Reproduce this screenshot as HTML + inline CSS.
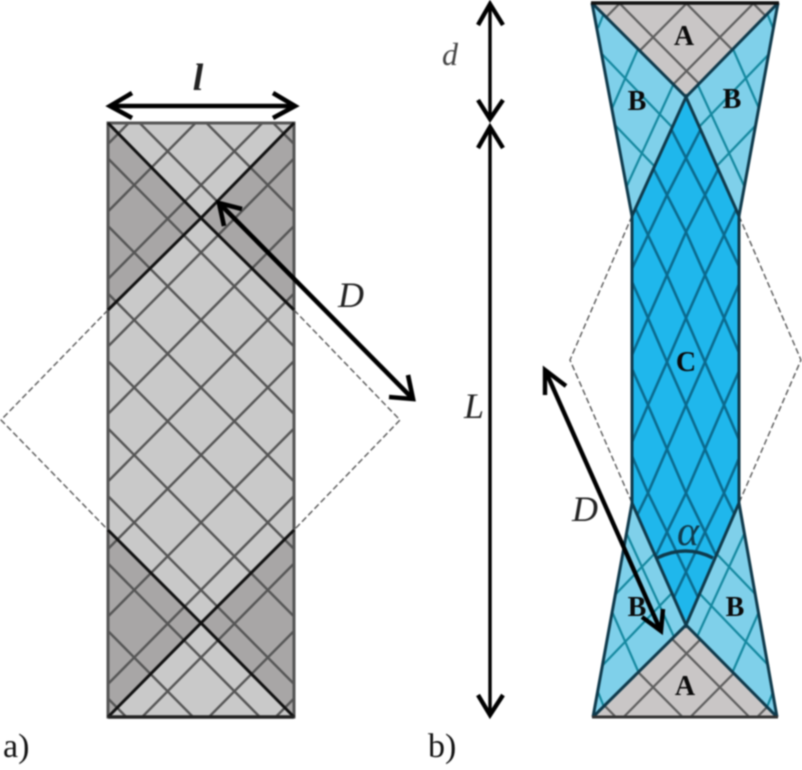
<!DOCTYPE html>
<html><head><meta charset="utf-8"><style>
html,body{margin:0;padding:0;background:#fff;width:802px;height:770px;overflow:hidden}
svg{display:block;filter:blur(.7px);overflow:hidden}
text{font-family:"Liberation Serif",serif}
</style></head><body>
<svg width="802" height="770" viewBox="0 0 802 770" xmlns="http://www.w3.org/2000/svg">
<defs>
<g id="half" fill="none">
<line x1="152" y1="0" x2="294" y2="144"/><line x1="108" y1="23.5" x2="294" y2="211.5"/>
<line x1="108" y1="91" x2="294" y2="279"/><line x1="108" y1="158.5" x2="294" y2="346.5"/>
<line x1="108" y1="226" x2="294" y2="414"/><line x1="108" y1="293.5" x2="294" y2="481.5"/>
<line x1="108" y1="361" x2="294" y2="549"/><line x1="108" y1="428.5" x2="294" y2="616.5"/>
<line x1="108" y1="496" x2="294" y2="684"/><line x1="108" y1="563.5" x2="294" y2="751.5"/>
<line x1="108" y1="631" x2="245.5" y2="770"/><line x1="108" y1="698.5" x2="178.7" y2="770"/>
</g>
<g id="grid"><use href="#half"/><use href="#half" transform="matrix(-1 0 0 1 402 0)"/></g>
<g id="chalf" fill="none">
<polyline points="629,47 648,84 667,121 686,158 705,195 724,235 743,275"/>
<polyline points="629,121 648,158 667,195 686,232 705,275 724,318 743,362"/>
<polyline points="629,195 648,235 667,275 686,318 705,362 724,405 743,449"/>
<polyline points="629,275 648,318 667,362 686,405 705,449 724,493 743,532"/>
<polyline points="629,362 648,405 667,449 686,493 705,532 724,572 743,612"/>
<polyline points="629,449 648,493 667,532 686,572 705,612 724,652 743,692"/>
</g>
<g id="blines" fill="none">
<line x1="600" y1="52" x2="672" y2="127"/>
<line x1="612" y1="122" x2="660" y2="172"/>
<line x1="645" y1="33" x2="610" y2="113"/>
<line x1="680" y1="70" x2="625" y2="190"/>
<line x1="598" y1="28" x2="606" y2="8"/>
</g>
<clipPath id="cr"><rect x="108" y="123" width="186" height="594"/></clipPath>
<clipPath id="ca1"><polygon points="592,3 778,3 686,97"/></clipPath>
<clipPath id="ca2"><polygon points="593,717 777,717 686,625"/></clipPath>
<clipPath id="cc"><polygon points="686,97 739,216 739,503 686,625 632,503 632,216"/></clipPath>
<clipPath id="cb"><polygon points="592,3 686,97 632,216"/></clipPath>
</defs>

<!-- a) -->
<rect x="108" y="123" width="186" height="594" fill="#c9c9c9"/>
<g fill="#a8a6a6">
<polygon points="108,123 201,218 108,310"/>
<polygon points="294,123 201,218 294,310"/>
<polygon points="108,717 201,623 108,530"/>
<polygon points="294,717 201,623 294,530"/>
</g>
<g clip-path="url(#cr)" stroke="#555" stroke-width="2.4"><use href="#grid"/></g>
<g fill="none" stroke="#555" stroke-width="1.4" stroke-dasharray="6 3">
<polyline points="108,310 1,420 108,530"/>
<polyline points="294,310 400,420 294,530"/>
</g>
<rect x="108" y="123" width="186" height="594" fill="none" stroke="#555" stroke-width="3"/>
<g stroke="#111" stroke-width="3" fill="none">
<polyline points="108,123 201,218 294,310"/>
<polyline points="294,123 201,218 108,310"/>
<polyline points="108,530 201,623 294,717"/>
<polyline points="294,530 201,623 108,717"/>
</g>
<line x1="108" y1="717" x2="294" y2="717" stroke="#222" stroke-width="3.4"/>

<g fill="none" stroke="#000" stroke-width="4.6">
<line x1="110" y1="106" x2="294" y2="106"/>
<polyline points="132,93 110,106 132,118"/>
<polyline points="273,93 295,106 273,118"/>
<line x1="220" y1="204" x2="411" y2="397"/>
<polyline points="242,209 219,203 224,226"/>
<polyline points="389,397 413,399 408,375"/>
</g>

<!-- b) -->
<g stroke="none">
<polygon points="592,3 686,97 632,216" fill="#7fd0ea"/>
<polygon points="778,3 686,97 739,216" fill="#7fd0ea"/>
<polygon points="593,717 686,625 632,503" fill="#7fd0ea"/>
<polygon points="777,717 686,625 739,503" fill="#7fd0ea"/>
<polygon points="686,97 739,216 739,503 686,625 632,503 632,216" fill="#1fb7ec"/>
<polygon points="592,3 778,3 686,97" fill="#c9c6c6"/>
<polygon points="593,717 777,717 686,625" fill="#c9c6c6"/>
</g>
<g fill="none" stroke="#555" stroke-width="1.4" stroke-dasharray="6 3">
<polyline points="632,216 570,360 632,503"/>
<polyline points="739,216 801,360 739,503"/>
</g>
<g clip-path="url(#ca1)" stroke="#5e5e5e" stroke-width="2.2"><g transform="translate(485.5 -114)"><use href="#grid"/></g></g>
<g clip-path="url(#ca2)" stroke="#5e5e5e" stroke-width="2.2"><g transform="translate(485.5 -4)"><use href="#grid"/></g></g>
<g clip-path="url(#cc)" stroke="#0b6a8e" stroke-width="2.6">
<use href="#chalf"/><use href="#chalf" transform="matrix(-1 0 0 1 1372 0)"/>
</g>
<g stroke="#15889f" stroke-width="2.2">
<g clip-path="url(#cb)"><use href="#blines"/></g>
<g transform="matrix(-1 0 0 1 1371 0)"><g clip-path="url(#cb)"><use href="#blines"/></g></g>
<g transform="matrix(1 0 0 -1 0 720)"><g clip-path="url(#cb)"><use href="#blines"/></g></g>
<g transform="matrix(-1 0 0 -1 1371 720)"><g clip-path="url(#cb)"><use href="#blines"/></g></g>
</g>
<g fill="none" stroke="#0f3a4c" stroke-width="3">
<polyline points="592,3 632,216 632,503 593,717"/>
<polyline points="778,3 739,216 739,503 777,717"/>
<polyline points="592,3 686,97 778,3"/>
<polyline points="593,717 686,625 777,717"/>
<polyline points="632,216 686,97 739,216"/>
<polyline points="632,503 686,625 739,503"/>
</g>
<line x1="591" y1="3" x2="779" y2="3" stroke="#111" stroke-width="3.6"/>
<line x1="592" y1="717" x2="778" y2="717" stroke="#333" stroke-width="3"/>
<path d="M657,558 Q686,544 713,558" fill="none" stroke="#0f3a4c" stroke-width="3.4"/>

<g fill="none" stroke="#000">
<line x1="490" y1="4" x2="490" y2="118" stroke-width="3.4"/>
<line x1="490" y1="127" x2="490" y2="715" stroke-width="3.4"/>
<g stroke-width="4.4">
<polyline points="478,25 490,4 503,25"/>
<polyline points="478,100 490,119 503,100"/>
<polyline points="478,148 490,127 503,148"/>
<polyline points="478,695 490,715 503,695"/>
<line x1="546" y1="372" x2="660" y2="629"/>
<polyline points="566,386 545,370 545,395"/>
<polyline points="642,617 661,631 663,609"/>
</g>
</g>

<g fill="#0a0a0a" font-weight="bold" font-size="28" text-anchor="middle">
<text x="684" y="45">A</text>
<text x="637" y="110">B</text>
<text x="732" y="108">B</text>
<text x="686" y="371">C</text>
<text x="637" y="616">B</text>
<text x="735" y="616">B</text>
<text x="685" y="695">A</text>
</g>
<text x="688" y="545" font-style="italic" font-size="42" fill="#0f3a4c" text-anchor="middle">α</text>
<g font-style="italic" fill="#222" text-anchor="middle">
<text x="198" y="90" font-size="38" font-weight="bold">l</text>
<text x="351" y="307" font-size="36">D</text>
<text x="450" y="65" font-size="32" fill="#444">d</text>
<text x="474" y="418" font-size="36">L</text>
<text x="585" y="521" font-size="36">D</text>
</g>
<g font-size="34" fill="#111">
<text x="3" y="757">a)</text>
<text x="428" y="757">b)</text>
</g>
</svg>
</body></html>
